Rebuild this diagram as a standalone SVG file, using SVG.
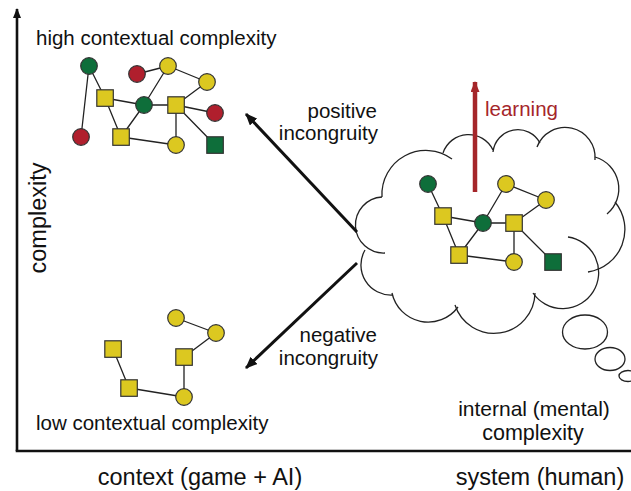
<svg xmlns="http://www.w3.org/2000/svg" width="631" height="491" viewBox="0 0 631 491">
<style>
text{font-family:"Liberation Sans",Arial,sans-serif;fill:#111}
.t{font-size:20.5px}
.b{font-size:23.5px}
.e{stroke:#222;stroke-width:1.3;fill:none}
.y{fill:#dcc820;stroke:#333;stroke-width:1.2}
.g{fill:#0e6e3a;stroke:#333;stroke-width:1.2}
.r{fill:#b01f2d;stroke:#333;stroke-width:1.2}
.cl{fill:none;stroke:#222;stroke-width:1.3}
.ax{stroke:#111;stroke-width:2.6;fill:none}
</style>
<defs>
<marker id="ah" viewBox="0 0 12 10" refX="11" refY="5" markerWidth="12" markerHeight="10" markerUnits="userSpaceOnUse" orient="auto">
<path d="M0,0 L12,5 L0,10 Z" fill="#111"/>
</marker>
<marker id="axh" viewBox="0 0 10 8" refX="9" refY="4" markerWidth="10" markerHeight="8" markerUnits="userSpaceOnUse" orient="auto">
<path d="M0,0 L10,4 L0,8 Z" fill="#111"/>
</marker>
<marker id="lh" viewBox="0 0 11 9" refX="10" refY="4.5" markerWidth="11" markerHeight="9" markerUnits="userSpaceOnUse" orient="auto">
<path d="M0,0 L11,4.5 L0,9 Z" fill="#a5262a"/>
</marker>
</defs>
<rect width="631" height="491" fill="#fff"/>

<g id="axes">
<line class="ax" x1="17" y1="451" x2="17" y2="9" marker-end="url(#axh)"/>
<line class="ax" x1="15.7" y1="451" x2="631" y2="451"/>
<text class="b" x="46" y="218" text-anchor="middle" transform="rotate(-90 46 218)">complexity</text>
<text class="b" x="200" y="485" text-anchor="middle">context (game + AI)</text>
<text class="b" x="540" y="485" text-anchor="middle">system (human)</text>
</g>

<g id="cloud">
<path class="cl" d="M382,197 A44,44 0 0 1 452,159"/>
<path class="cl" d="M443,153 A27,27 0 0 1 493,150"/>
<path class="cl" d="M493,152 A25,25 0 0 1 540,143"/>
<path class="cl" d="M537,147 A30,30 0 0 1 595,160"/>
<path class="cl" d="M595,157 A33,33 0 0 1 607,214"/>
<path class="cl" d="M615,202 A43,43 0 0 1 588,272"/>
<path class="cl" d="M568,237 A36,36 0 1 1 533,293"/>
<path class="cl" d="M535,293 A41,41 0 0 1 455,305"/>
<path class="cl" d="M458,307 A37,37 0 0 1 392,293"/>
<path class="cl" d="M393,295 A30,30 0 0 1 365,250"/>
<path class="cl" d="M385,253 A28,28 0 0 1 382,197"/>
<ellipse class="cl" cx="585" cy="332" rx="22.5" ry="17"/>
<ellipse class="cl" cx="610" cy="359" rx="15" ry="11.5"/>
<ellipse class="cl" cx="628" cy="376" rx="9" ry="5.5"/>
<text class="t" x="534" y="416" text-anchor="middle" style="font-size:21px">internal (mental)</text>
<text class="t" x="533" y="440" text-anchor="middle" style="font-size:21.5px">complexity</text>
</g>

<g id="connectors">
<line x1="357" y1="232" x2="246" y2="114" stroke="#111" stroke-width="3" marker-end="url(#ah)"/>
<line x1="357" y1="263" x2="246" y2="368" stroke="#111" stroke-width="3" marker-end="url(#ah)"/>
<line x1="475" y1="192" x2="475" y2="82" stroke="#a5262a" stroke-width="4.5" marker-end="url(#lh)"/>
<g class="e">
<path d="M89,66 L105,98 M89,66 L81,137 M137,74 L168,66 M168,66 L144,105 M168,66 L207,82 M207,82 L176,105 M105,98 L144,105 M105,98 L121,137 M144,105 L176,105 M144,105 L121,137 M176,105 L215,113 M176,105 L176,145 M176,105 L215,145 M121,137 L176,145"/>
<path d="M428,184 L443,216 M443,216 L483,223 M443,216 L459,255 M483,223 L459,255 M483,223 L514,223 M483,223 L506,184 M506,184 L546,200 M546,200 L514,223 M514,223 L514,262 M514,223 L553,262 M459,255 L514,262"/>
<path d="M176,318 L216,333 M216,333 L184,357 M184,357 L184,397 M113,349 L129,388 M129,388 L184,397"/>
</g>
</g>

<g id="labels">
<text class="t" x="36" y="45">high contextual complexity</text>
<text class="t" x="36" y="430">low contextual complexity</text>
<text class="t" x="377" y="118" text-anchor="end">positive</text>
<text class="t" x="378" y="140" text-anchor="end">incongruity</text>
<text class="t" x="377" y="342" text-anchor="end">negative</text>
<text class="t" x="378" y="365" text-anchor="end">incongruity</text>
<text class="t" x="485" y="116" style="fill:#a5262a">learning</text>
</g>

<g id="high-network">
<circle id="h1" class="g" cx="89" cy="66" r="8.3"/>
<circle id="h2" class="r" cx="137" cy="74" r="8.3"/>
<circle id="h3" class="y" cx="168" cy="66" r="8.3"/>
<circle id="h4" class="y" cx="207" cy="82" r="8.3"/>
<rect id="h5" class="y" x="96.8" y="89.8" width="16.5" height="16.5"/>
<circle id="h6" class="g" cx="144" cy="105" r="8.3"/>
<rect id="h7" class="y" x="167.8" y="96.8" width="16.5" height="16.5"/>
<circle id="h8" class="r" cx="215" cy="113" r="8.3"/>
<circle id="h9" class="r" cx="81" cy="137" r="8.3"/>
<rect id="h10" class="y" x="112.8" y="128.8" width="16.5" height="16.5"/>
<circle id="h11" class="y" cx="176" cy="145" r="8.3"/>
<rect id="h12" class="g" x="206.8" y="136.8" width="16.5" height="16.5"/>
</g>

<g id="cloud-network">
<circle id="c1" class="g" cx="428" cy="184" r="8.3"/>
<circle id="c2" class="y" cx="506" cy="184" r="8.3"/>
<circle id="c3" class="y" cx="546" cy="200" r="8.3"/>
<rect id="c4" class="y" x="434.8" y="207.8" width="16.5" height="16.5"/>
<circle id="c5" class="g" cx="483" cy="223" r="8.3"/>
<rect id="c6" class="y" x="505.8" y="214.8" width="16.5" height="16.5"/>
<rect id="c7" class="y" x="450.8" y="246.8" width="16.5" height="16.5"/>
<circle id="c8" class="y" cx="514" cy="262" r="8.3"/>
<rect id="c9" class="g" x="544.8" y="253.8" width="16.5" height="16.5"/>
</g>

<g id="low-network">
<circle id="l1" class="y" cx="176" cy="318" r="8.3"/>
<circle id="l2" class="y" cx="216" cy="333" r="8.3"/>
<rect id="l3" class="y" x="175.8" y="348.8" width="16.5" height="16.5"/>
<rect id="l4" class="y" x="104.8" y="340.8" width="16.5" height="16.5"/>
<rect id="l5" class="y" x="120.8" y="379.8" width="16.5" height="16.5"/>
<circle id="l6" class="y" cx="184" cy="397" r="8.3"/>
</g>
</svg>
